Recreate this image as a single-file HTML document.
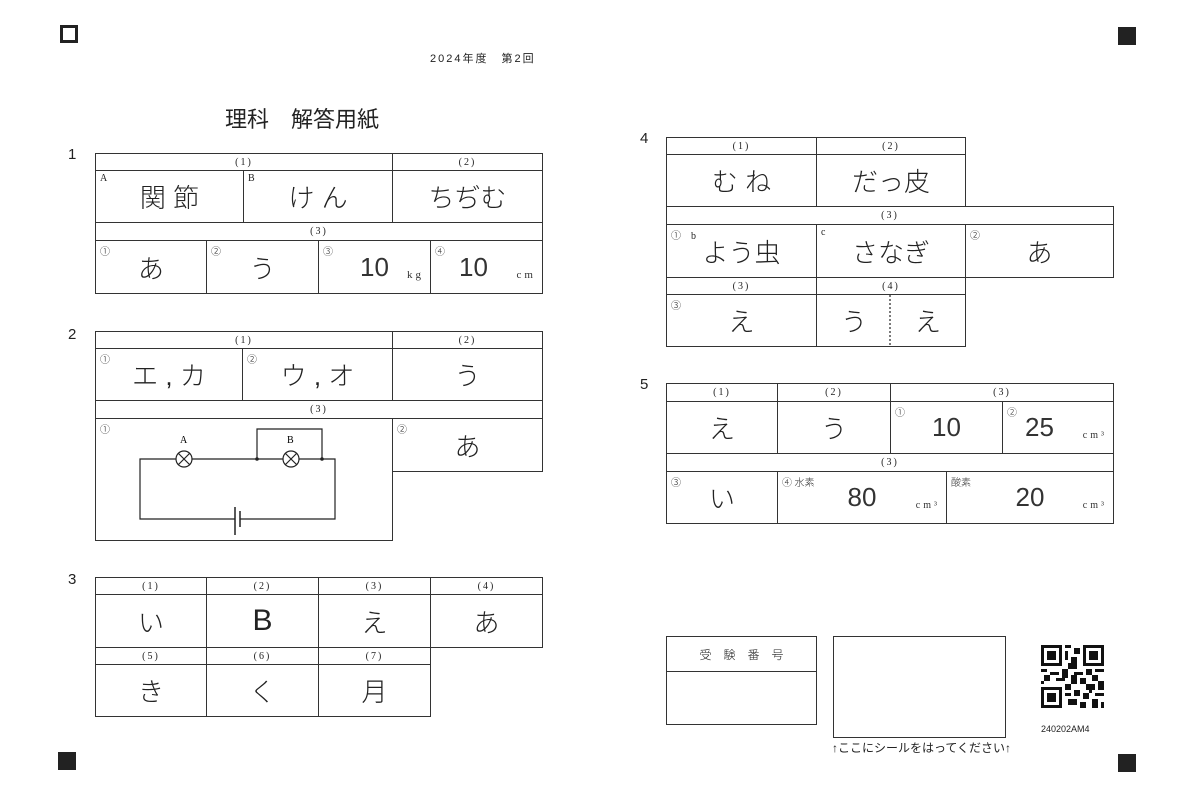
<!DOCTYPE html>
<html><head><meta charset="utf-8">
<style>
body{margin:0;width:1200px;height:800px;background:#fff;position:relative;overflow:hidden;font-family:"Liberation Sans","Noto Sans CJK JP",sans-serif;color:#222}
.b{position:absolute;border:1px solid #333;box-sizing:border-box;display:flex;align-items:center;justify-content:center;font-size:26px;font-family:"Liberation Sans","Noto Sans CJK JP",sans-serif;font-weight:300}
.h{font-size:10px;font-family:"Liberation Serif","Noto Serif CJK SC",serif;letter-spacing:2px}
.s{position:absolute;left:4px;top:2px;font-size:10px;font-family:"Liberation Serif","Noto Sans CJK JP",serif}
.u{position:absolute;right:6px;bottom:12px;font-size:11px;font-family:"Liberation Serif",serif;letter-spacing:3px}
.n{position:absolute;font-size:15px}
.t{position:absolute;white-space:nowrap}
.sq{position:absolute;width:18px;height:18px;background:#222}
.d{color:#333}
</style></head><body>
<div class="sq" style="left:60px;top:25px;background:#fff;border:3px solid #222;box-sizing:border-box;"></div>
<div class="sq" style="left:1118px;top:27px"></div>
<div class="sq" style="left:58px;top:752px"></div>
<div class="sq" style="left:1118px;top:754px"></div>
<div class="t" style="left:430px;top:50px;font-size:11px;letter-spacing:2px">2024年度　第2回</div>
<div class="t" style="left:225px;top:102px;font-size:22px">理科　解答用紙</div>

<div class="n" style="left:68px;top:146px">1</div>
<div class="b h" style="left:95px;top:153px;width:298px;height:18px">(1)</div>
<div class="b h" style="left:392px;top:153px;width:151px;height:18px">(2)</div>
<div class="b" style="left:95px;top:170px;width:149px;height:53px"><span class="s">A</span>関 節</div>
<div class="b" style="left:243px;top:170px;width:150px;height:53px"><span class="s">B</span>け ん</div>
<div class="b" style="left:392px;top:170px;width:151px;height:53px">ちぢむ</div>
<div class="b h" style="left:95px;top:222px;width:448px;height:19px">(3)</div>
<div class="b" style="left:95px;top:240px;width:112px;height:54px"><span class="s">①</span>あ</div>
<div class="b" style="left:206px;top:240px;width:113px;height:54px"><span class="s">②</span>う</div>
<div class="b d" style="left:318px;top:240px;width:113px;height:54px"><span class="s">③</span>10<span class="u">kg</span></div>
<div class="b d" style="left:430px;top:240px;width:113px;height:54px;justify-content:flex-start;padding-left:28px"><span class="s">④</span>10<span class="u">cm</span></div>

<div class="n" style="left:68px;top:326px">2</div>
<div class="b h" style="left:95px;top:331px;width:298px;height:18px">(1)</div>
<div class="b h" style="left:392px;top:331px;width:151px;height:18px">(2)</div>
<div class="b" style="left:95px;top:348px;width:148px;height:53px"><span class="s">①</span>エ , カ</div>
<div class="b" style="left:242px;top:348px;width:151px;height:53px"><span class="s">②</span>ウ , オ</div>
<div class="b" style="left:392px;top:348px;width:151px;height:53px">う</div>
<div class="b h" style="left:95px;top:400px;width:448px;height:19px">(3)</div>
<div class="b" style="left:95px;top:418px;width:298px;height:123px"><span class="s">①</span></div>
<div class="b" style="left:392px;top:418px;width:151px;height:54px"><span class="s">②</span>あ</div>
<svg style="position:absolute;left:0;top:0" width="1200" height="800">
<g fill="none" stroke="#222" stroke-width="1.2">
<path d="M176 459H140V519H235M240 519H335V459H299M192 459H283M257 459V429H322V459"/>
<circle cx="184" cy="459" r="8" fill="#fff"/><path d="M178 453l12 12M190 453l-12 12"/>
<circle cx="291" cy="459" r="8" fill="#fff"/><path d="M285 453l12 12M297 453l-12 12"/>
<path d="M235 507V535M240 511V527" stroke-width="1.5"/>
<path d="M890 295V346" stroke-dasharray="2,2"/>
</g>
<circle cx="257" cy="459" r="1.8" fill="#222"/><circle cx="322" cy="459" r="1.8" fill="#222"/>
<text x="180" y="443" font-size="10" font-family="Liberation Serif">A</text>
<text x="287" y="443" font-size="10" font-family="Liberation Serif">B</text>
</svg>

<div class="n" style="left:68px;top:571px">3</div>
<div class="b h" style="left:95px;top:577px;width:112px;height:18px">(1)</div>
<div class="b h" style="left:206px;top:577px;width:113px;height:18px">(2)</div>
<div class="b h" style="left:318px;top:577px;width:113px;height:18px">(3)</div>
<div class="b h" style="left:430px;top:577px;width:113px;height:18px">(4)</div>
<div class="b" style="left:95px;top:594px;width:112px;height:54px">い</div>
<div class="b" style="left:206px;top:594px;width:113px;height:54px;font-size:30px">B</div>
<div class="b" style="left:318px;top:594px;width:113px;height:54px">え</div>
<div class="b" style="left:430px;top:594px;width:113px;height:54px">あ</div>
<div class="b h" style="left:95px;top:647px;width:112px;height:18px">(5)</div>
<div class="b h" style="left:206px;top:647px;width:113px;height:18px">(6)</div>
<div class="b h" style="left:318px;top:647px;width:113px;height:18px">(7)</div>
<div class="b" style="left:95px;top:664px;width:112px;height:53px">き</div>
<div class="b" style="left:206px;top:664px;width:113px;height:53px">く</div>
<div class="b" style="left:318px;top:664px;width:113px;height:53px">月</div>

<div class="n" style="left:640px;top:130px">4</div>
<div class="b h" style="left:666px;top:137px;width:151px;height:18px">(1)</div>
<div class="b h" style="left:816px;top:137px;width:150px;height:18px">(2)</div>
<div class="b" style="left:666px;top:154px;width:151px;height:53px">む ね</div>
<div class="b" style="left:816px;top:154px;width:150px;height:53px">だっ皮</div>
<div class="b h" style="left:666px;top:206px;width:448px;height:19px">(3)</div>
<div class="b" style="left:666px;top:224px;width:151px;height:54px"><span class="s">①　b</span>よう虫</div>
<div class="b" style="left:816px;top:224px;width:150px;height:54px"><span class="s">c</span>さなぎ</div>
<div class="b" style="left:965px;top:224px;width:149px;height:54px"><span class="s">②</span>あ</div>
<div class="b h" style="left:666px;top:277px;width:151px;height:18px">(3)</div>
<div class="b h" style="left:816px;top:277px;width:150px;height:18px">(4)</div>
<div class="b" style="left:666px;top:294px;width:151px;height:53px"><span class="s">③</span>え</div>
<div class="b" style="left:816px;top:294px;width:150px;height:53px;justify-content:space-around">う<span>え</span></div>

<div class="n" style="left:640px;top:376px">5</div>
<div class="b h" style="left:666px;top:383px;width:112px;height:19px">(1)</div>
<div class="b h" style="left:777px;top:383px;width:114px;height:19px">(2)</div>
<div class="b h" style="left:890px;top:383px;width:224px;height:19px">(3)</div>
<div class="b" style="left:666px;top:401px;width:112px;height:53px">え</div>
<div class="b" style="left:777px;top:401px;width:114px;height:53px">う</div>
<div class="b d" style="left:890px;top:401px;width:113px;height:53px"><span class="s">①</span>10</div>
<div class="b d" style="left:1002px;top:401px;width:112px;height:53px;justify-content:flex-start;padding-left:22px"><span class="s">②</span>25<span class="u" style="font-size:10px">cm³</span></div>
<div class="b h" style="left:666px;top:453px;width:448px;height:19px">(3)</div>
<div class="b" style="left:666px;top:471px;width:112px;height:53px"><span class="s">③</span>い</div>
<div class="b d" style="left:777px;top:471px;width:170px;height:53px"><span class="s">④ 水素</span>80<span class="u" style="font-size:10px">cm³</span></div>
<div class="b d" style="left:946px;top:471px;width:168px;height:53px"><span class="s">酸素</span>20<span class="u" style="font-size:10px">cm³</span></div>

<div class="b" style="left:666px;top:636px;width:151px;height:36px;font-size:12px;letter-spacing:12px;padding-left:12px">受験番号</div>
<div class="b" style="left:666px;top:671px;width:151px;height:54px"></div>
<div class="b" style="left:833px;top:636px;width:173px;height:102px;border-width:1.5px"></div>
<div class="t" style="left:832px;top:739px;font-size:12px">↑ここにシールをはってください↑</div>
<div class="t" style="left:1041px;top:724px;font-size:9px">240202AM4</div>
<svg style="position:absolute;left:1041px;top:645px" width="63" height="63" viewBox="0 0 21 21">
<g fill="#111">
<path d="M0 0h7v7H0zM14 0h7v7h-7zM0 14h7v7H0z"/>
</g>
<g fill="#fff"><path d="M1 1h5v5H1zM15 1h5v5h-5zM1 15h5v5H1z"/></g>
<g fill="#111"><path d="M2 2h3v3H2zM16 2h3v3h-3zM2 16h3v3H2z"/>
<path d="M8 0h2v1H8zM11 1h2v2h-2zM8 2h1v3H8zM10 4h2v2h-2zM9 6h3v2H9zM0 8h2v1H0zM3 9h3v1H3zM7 8h2v3H7zM11 9h3v1h-3zM15 8h2v2h-2zM18 8h3v1h-3zM1 10h2v2H1zM5 11h3v1H5zM10 10h2v3h-2zM13 11h2v2h-2zM17 10h2v2h-2zM19 12h2v3h-2zM0 12h1v1H0zM8 13h2v2H8zM15 13h3v2h-3zM11 15h2v2h-2zM8 16h2v1H8zM14 16h2v2h-2zM18 16h3v1h-3zM9 18h3v2H9zM13 19h2v2h-2zM17 18h2v3h-2zM20 19h1v2h-1zM16 15h1v1h-1z"/></g>
</svg>
</body></html>
